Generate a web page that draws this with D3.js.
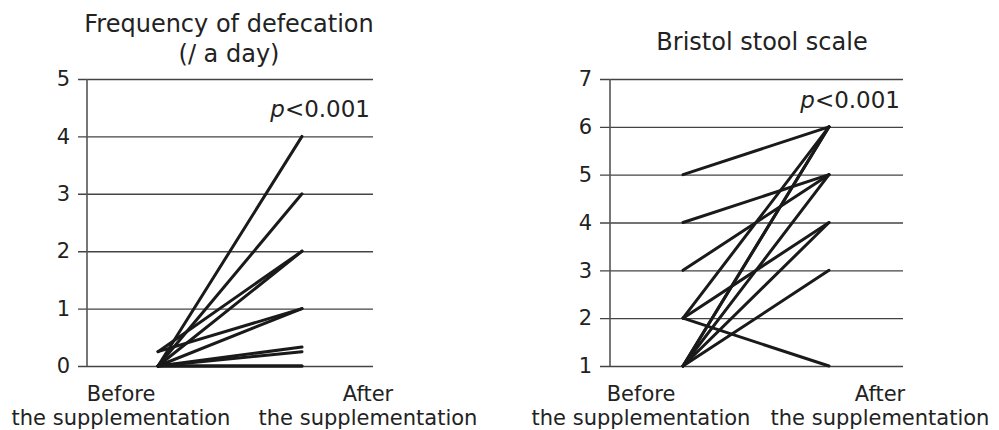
<!DOCTYPE html>
<html>
<head>
<meta charset="utf-8">
<script src="https://cdn.jsdelivr.net/npm/d3@7"></script>
<style>
  body { margin: 0; background: #fff; }
  svg text { font-family: "DejaVu Sans", Verdana, sans-serif; fill: #222; }
</style>
</head>
<body>
<svg id="chart" width="999" height="430"></svg>
<script>
// Frequency of defecation (/ a day), one pair per subject
var freqBefore = [0, 0, 0, 0.25, 0, 0.25, 0, 0, 0, 0];
var freqAfter  = [4, 3, 2, 2, 1, 1, 0.33, 0.25, 0, 0];
var freqTicks  = [0, 1, 2, 3, 4, 5];

// Bristol stool scale, one pair per subject
var bssBefore = [5, 4, 3, 2, 2, 2, 1, 1, 1, 1, 1];
var bssAfter  = [6, 5, 5, 6, 4, 1, 6, 6, 5, 4, 3];
var bssTicks  = [1, 2, 3, 4, 5, 6, 7];

var periods = ["Before", "After"];
var pText = "<0.001";

var svg = d3.select("#chart");

function drawPanel(opt) {
    var g = svg.append("g");

    var y = d3.scaleLinear().domain(opt.yDomain).range([366, 79]);
    var x = d3.scalePoint().domain(periods).range([opt.xBefore, opt.xAfter]);

    // gridlines + tick labels
    var axis = d3.axisLeft(y).tickValues(opt.ticks)
        .tickSize(-(opt.gridRight - opt.gridLeft)).tickPadding(8)
        .tickFormat(d3.format("d"));
    var ax = g.append("g").attr("transform", "translate(" + opt.gridLeft + ",0)").call(axis);
    ax.select(".domain").remove();
    ax.selectAll(".tick line").attr("stroke", "#444").attr("stroke-width", 1.4);
    ax.selectAll(".tick text").attr("font-size", 21).attr("fill", "#2a2a2a")
        .style("font-family", "DejaVu Sans, Verdana, sans-serif");

    // vertical axis
    g.append("line")
        .attr("x1", opt.axisX).attr("x2", opt.axisX)
        .attr("y1", y.range()[0]).attr("y2", y.range()[1])
        .attr("stroke", "#555").attr("stroke-width", 1.6);

    // subject lines
    g.selectAll(".subj").data(opt.before).enter().append("line")
        .attr("class", "subj")
        .attr("x1", x("Before")).attr("y1", function(d) { return y(d); })
        .attr("x2", x("After")).attr("y2", function(d, i) { return y(opt.after[i]); })
        .attr("stroke", "#1a1a1a").attr("stroke-width", 3).attr("stroke-linecap", "round");

    // title
    var t = g.append("text").attr("text-anchor", "middle").attr("font-size", 24);
    opt.title.forEach(function(s, i) {
        t.append("tspan").attr("x", opt.titleX).attr("y", opt.titleY + i * 30).text(s);
    });

    // p value
    var p = g.append("text").attr("text-anchor", "end").attr("font-size", 23)
        .attr("x", opt.gridRight - 3).attr("y", opt.pY);
    p.append("tspan").attr("font-style", "italic").text("p");
    p.append("tspan").text(pText);

    // x labels
    [["Before", opt.lblBefore], ["After", opt.lblAfter]].forEach(function(l) {
        var tx = g.append("text").attr("text-anchor", "middle").attr("font-size", 21);
        tx.append("tspan").attr("x", l[1]).attr("y", 401).text(l[0]);
        tx.append("tspan").attr("x", l[1]).attr("y", 425).text("the supplementation");
    });
}

drawPanel({
    before: freqBefore, after: freqAfter, ticks: freqTicks, yDomain: [0, 5],
    gridLeft: 78, gridRight: 373, axisX: 87, xBefore: 158, xAfter: 302,
    title: ["Frequency of defecation", "(/ a day)"], titleX: 229, titleY: 32,
    pY: 117, lblBefore: 121, lblAfter: 368
});

drawPanel({
    before: bssBefore, after: bssAfter, ticks: bssTicks, yDomain: [1, 7],
    gridLeft: 600, gridRight: 903, axisX: 610, xBefore: 683, xAfter: 829,
    title: ["Bristol stool scale"], titleX: 762, titleY: 50,
    pY: 108, lblBefore: 641, lblAfter: 880
});
</script>
</body>
</html>
